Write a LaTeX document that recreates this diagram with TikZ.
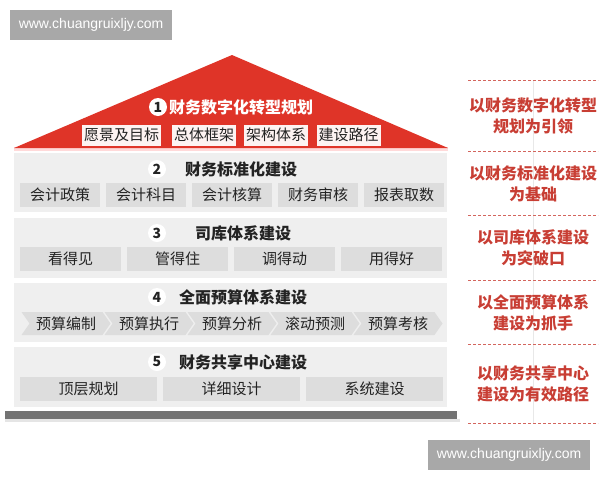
\documentclass[tikz,border=0pt]{standalone}
\usepackage{fontspec}
\setmainfont{Noto Sans CJK SC}
\newfontfamily\webfont{Liberation Sans}
\usetikzlibrary{shapes.symbols}

\definecolor{techo}{RGB}{223,52,40}
\definecolor{grispanel}{RGB}{239,239,239}
\definecolor{griscelda}{RGB}{221,221,221}
\definecolor{texto}{RGB}{35,35,35}
\definecolor{rojotxt}{RGB}{200,62,52}
\definecolor{grismarca}{RGB}{168,168,168}

\tikzset{
  capa/.style={fill=grispanel, draw=white, line width=1.5pt, minimum width=434pt, minimum height=61pt, inner sep=0pt},
  celda/.style={fill=griscelda, text=texto, minimum height=24pt, inner sep=0pt, font=\fontsize{15}{17}\selectfont},
  flecha/.style={celda, shape=signal, signal from=west, signal to=east, signal pointer angle=110, minimum width=89pt, minimum height=23pt},
  hoja/.style={fill=white!94!techo, text=texto, minimum height=21pt, inner sep=2pt, font=\fontsize{15}{17}\selectfont},
  numero/.style={circle, fill=white, text=texto, inner sep=0pt, minimum size=18pt, font=\bfseries\fontsize{14}{14}\selectfont},
  titulo/.style={anchor=west, inner sep=0pt, text=texto, font=\bfseries\fontsize{16}{18}\selectfont},
  lema/.style={text=rojotxt, align=center, inner sep=0pt, font=\bfseries\fontsize{16}{21}\selectfont},
  corte/.style={draw=rojotxt!80, dash pattern=on 3pt off 2pt, line width=0.8pt},
  web/.style={fill=grismarca, text=white, minimum width=162pt, minimum height=30pt, inner sep=0pt, font=\webfont\fontsize{14}{16}\selectfont}
}

\begin{document}
\begin{tikzpicture}[x=1pt, y=-1pt]
  \useasboundingbox (0,0) rectangle (600,480);

  % Marcas de agua
  \node[web] (web1) at (91,25) {www.chuangruixljy.com};
  \node[web] (web2) at (509,455) {www.chuangruixljy.com};

  % Techo
  \fill[red!15] (14,147) rectangle (448,152);
  \fill[techo] (14,148) -- (232,55) -- (448,148) -- cycle;
  \node[numero] (n1) at (158,107) {1};
  \node[titulo, text=white] (t1) at (169,107) {财务数字化转型规划};
  \node[hoja] (vision) at (121.5,135) {愿景及目标};
  \node[hoja] (marco) at (204,135) {总体框架};
  \node[hoja] (arq) at (276,135) {架构体系};
  \node[hoja] (ruta) at (348.5,135) {建设路径};

  % Capa 2
  \node[capa] (capa2) at (230.5,182.5) {};
  \node[numero] (n2) at (157,169) {2};
  \node[titulo] (t2) at (185,169) {财务标准化建设};
  \foreach \txt [count=\i] in {会计政策,会计科目,会计核算,财务审核,报表取数}
    \node[celda, minimum width=80pt] (std\i) at ({60+86*(\i-1)},194.5) {\txt};

  % Capa 3
  \node[capa] (capa3) at (230.5,248) {};
  \node[numero] (n3) at (157,233) {3};
  \node[titulo] (t3) at (195,233) {司库体系建设};
  \foreach \txt [count=\i] in {看得见,管得住,调得动,用得好}
    \node[celda, minimum width=101pt] (siku\i) at ({70.5+107*(\i-1)},259) {\txt};

  % Capa 4
  \node[capa] (capa4) at (230.5,312.5) {};
  \node[numero] (n4) at (157,297) {4};
  \node[titulo] (t4) at (179,297) {全面预算体系建设};
  \foreach \txt [count=\i] in {预算编制,预算执行,预算分析,滚动预测,预算考核}
    \node[flecha] (pres\i) at ({66+83*(\i-1)},323.5) {\txt};

  % Capa 5
  \node[capa] (capa5) at (230.5,377) {};
  \node[numero] (n5) at (157,362) {5};
  \node[titulo] (t5) at (179,362) {财务共享中心建设};
  \foreach \txt [count=\i] in {顶层规划,详细设计,系统建设}
    \node[celda, minimum width=137pt] (share\i) at ({88.5+143*(\i-1)},389) {\txt};

  % Base
  \fill[gray!20] (5,419) rectangle (460,422);
  \fill[black!55] (5,411) rectangle (457,419);

  % Columna derecha
  \draw[gray!18, line width=0.6pt] (533,80) -- (533,423);
  \foreach \y in {80,151,215,280,344,423}
    \draw[corte] (468,\y) -- (598,\y);
  \node[lema] (l1) at (533,116) {以财务数字化转型\\规划为引领};
  \node[lema] (l2) at (533,184) {以财务标准化建设\\为基础};
  \node[lema] (l3) at (533,248) {以司库体系建设\\为突破口};
  \node[lema] (l4) at (533,313) {以全面预算体系\\建设为抓手};
  \node[lema] (l5) at (533,384) {以财务共享中心\\建设为有效路径};
\end{tikzpicture}
\end{document}
